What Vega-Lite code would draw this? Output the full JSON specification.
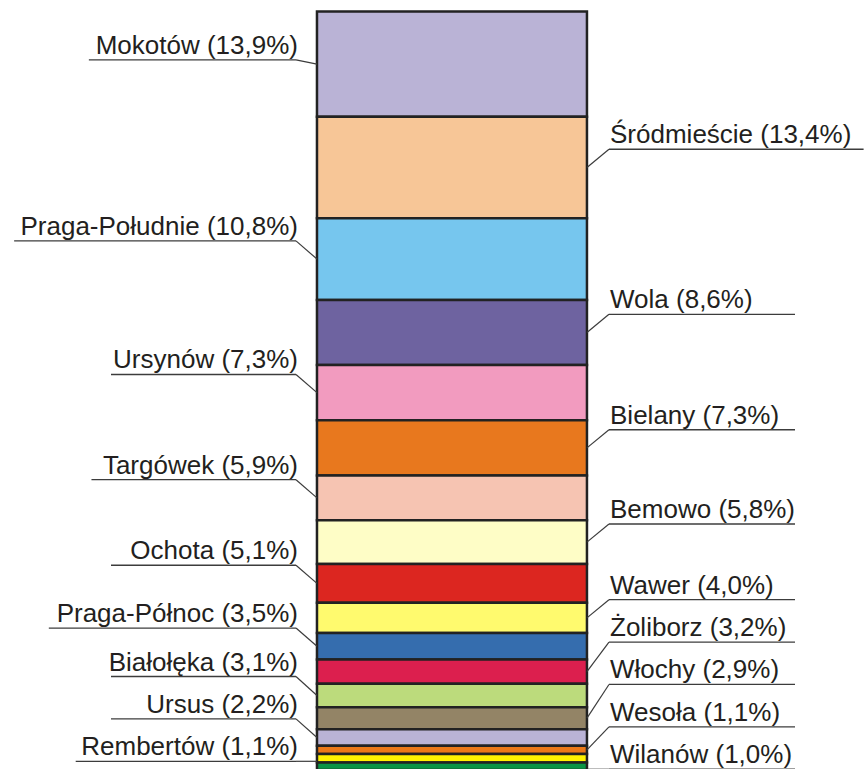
{
  "$schema": "https://vega.github.io/schema/vega-lite/v6.json",
  "width": 867,
  "height": 769,
  "autosize": {"type": "none"},
  "padding": 0,
  "background": "white",
  "config": {"view": {"stroke": null}},
  "data": {
    "values": [
      {"district": "Mokotów", "value": 13.9},
      {"district": "Śródmieście", "value": 13.4},
      {"district": "Praga-Południe", "value": 10.8},
      {"district": "Wola", "value": 8.6},
      {"district": "Ursynów", "value": 7.3},
      {"district": "Bielany", "value": 7.3},
      {"district": "Targówek", "value": 5.9},
      {"district": "Bemowo", "value": 5.8},
      {"district": "Ochota", "value": 5.1},
      {"district": "Wawer", "value": 4.0},
      {"district": "Praga-Północ", "value": 3.5},
      {"district": "Żoliborz", "value": 3.2},
      {"district": "Białołęka", "value": 3.1},
      {"district": "Włochy", "value": 2.9},
      {"district": "Ursus", "value": 2.2},
      {"district": "Wesoła", "value": 1.1},
      {"district": "Rembertów", "value": 1.1},
      {"district": "Wilanów", "value": 1.0}
    ]
  },
  "transform": [
    {"window": [{"op": "row_number", "as": "rank"}]},
    {"window": [{"op": "sum", "field": "value", "as": "cumEnd"}], "sort": [{"field": "rank"}], "frame": [null, 0]},
    {"calculate": "datum.cumEnd - datum.value", "as": "cumStart"},
    {"calculate": "datum.cumEnd - datum.value / 2", "as": "mid"},
    {"calculate": "datum.rank % 2 == 1 ? 'L' : 'R'", "as": "side"},
    {"calculate": "floor((datum.rank - 1) / 2)", "as": "k"},
    {"joinaggregate": [{"op": "max", "field": "mid", "as": "lastMid"}, {"op": "count", "as": "n"}], "groupby": ["side"]},
    {"calculate": "datum.k == datum.n - 1 ? datum.mid + 0.4 : max(6.4, min(datum.mid - 2.4, datum.lastMid + 0.4 - (datum.n - 1 - datum.k) * 5.6))", "as": "ul"},
    {"calculate": "datum.k == datum.n - 1 ? datum.mid + 0.4 : datum.mid", "as": "endY"},
    {"calculate": "datum.district + ' (' + replace(format(datum.value, '.1f'), '.', ',') + '%)'", "as": "label"},
    {"calculate": "0.556 * length(datum.label) - 0.334 * (length(datum.label) - length(replace(datum.label, regexp('[ilłjI]', 'g'), ''))) - 0.25 * (length(datum.label) - length(replace(datum.label, regexp('[tf ,.()r-]', 'g'), ''))) + 0.2 * (length(datum.label) - length(replace(datum.label, regexp('[wPBRUSŚTŻ]', 'g'), ''))) + 0.3 * (length(datum.label) - length(replace(datum.label, regexp('[mM%]', 'g'), ''))) + 0.39 * (length(datum.label) - length(replace(datum.label, regexp('W', 'g'), '')))", "as": "em"},
    {"calculate": "datum.em * 26", "as": "w"},
    {"calculate": "(datum.side == 'L' ? (298 - datum.w < 100 ? 298 - datum.w - 4 : 111) : (610 + datum.w > 800 ? 610 + datum.w + 8 : 795)) / 8.67", "as": "ulOuter"},
    {"calculate": "datum.side == 'L' ? 34.14 : 70.24", "as": "kneeX"},
    {"calculate": "datum.side == 'L' ? 36.56 : 67.7", "as": "edgeX"},
    {"calculate": "datum.side == 'L' ? 34.37 : 70.36", "as": "textX"}
  ],
  "layer": [
    {
      "mark": {"type": "rect", "stroke": "#222222", "strokeWidth": 2.5},
      "encoding": {
        "x": {"datum": 36.56, "type": "quantitative", "scale": {"domain": [0, 100], "nice": false, "zero": false}, "axis": null},
        "x2": {"datum": 67.7},
        "y": {"field": "cumStart", "type": "quantitative", "scale": {"domain": [-1.519, 100.066], "reverse": true, "nice": false, "zero": false}, "axis": null},
        "y2": {"field": "cumEnd"},
        "color": {
          "field": "district",
          "type": "nominal",
          "legend": null,
          "scale": {
            "domain": ["Mokotów", "Śródmieście", "Praga-Południe", "Wola", "Ursynów", "Bielany", "Targówek", "Bemowo", "Ochota", "Wawer", "Praga-Północ", "Żoliborz", "Białołęka", "Włochy", "Ursus", "Wesoła", "Rembertów", "Wilanów"],
            "range": ["#bab3d6", "#f7c697", "#76c6ee", "#6e63a0", "#f29bbf", "#e8781e", "#f6c4b2", "#fefdc6", "#dc2620", "#fffa6e", "#356dae", "#dc1f4e", "#bcdb7c", "#938466", "#bab3d6", "#ec7818", "#fff200", "#0a9444"]
          }
        }
      }
    },
    {
      "mark": {"type": "rule", "stroke": "#3c3c3c", "strokeWidth": 1.3},
      "encoding": {
        "x": {"field": "ulOuter", "type": "quantitative"},
        "x2": {"field": "kneeX"},
        "y": {"field": "ul", "type": "quantitative"}
      }
    },
    {
      "mark": {"type": "rule", "stroke": "#3c3c3c", "strokeWidth": 1.2},
      "encoding": {
        "x": {"field": "kneeX", "type": "quantitative"},
        "x2": {"field": "edgeX"},
        "y": {"field": "ul", "type": "quantitative"},
        "y2": {"field": "endY"}
      }
    },
    {
      "transform": [{"filter": "datum.side == 'L'"}],
      "mark": {"type": "text", "align": "right", "baseline": "alphabetic", "dy": -6, "font": "Liberation Sans", "fontSize": 26, "color": "#231f20"},
      "encoding": {
        "x": {"field": "textX", "type": "quantitative"},
        "y": {"field": "ul", "type": "quantitative"},
        "text": {"field": "label"}
      }
    },
    {
      "transform": [{"filter": "datum.side == 'R'"}],
      "mark": {"type": "text", "align": "left", "baseline": "alphabetic", "dy": -6, "font": "Liberation Sans", "fontSize": 26, "color": "#231f20"},
      "encoding": {
        "x": {"field": "textX", "type": "quantitative"},
        "y": {"field": "ul", "type": "quantitative"},
        "text": {"field": "label"}
      }
    }
  ]
}
